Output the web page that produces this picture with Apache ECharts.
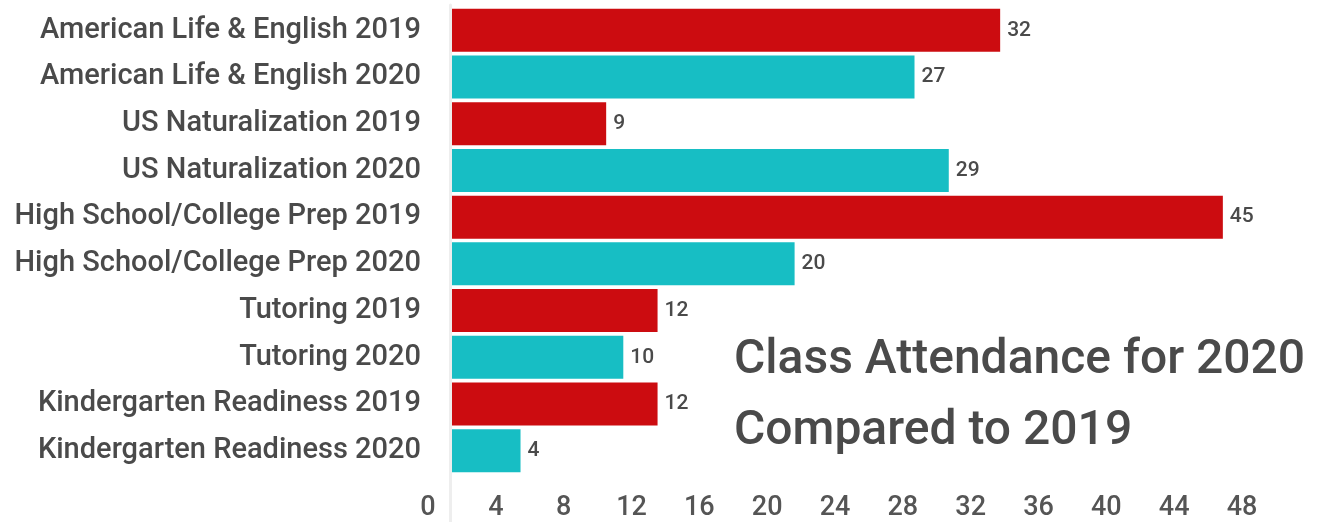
<!DOCTYPE html>
<html><head><meta charset="utf-8">
<script src="https://cdn.jsdelivr.net/npm/echarts@6/dist/echarts.min.js"></script>
<style>html,body{margin:0;padding:0;background:#fff}#c{width:1319px;height:522px}</style>
</head><body><div id="c"></div>
<script>
const categories = [
  "American Life & English 2019","American Life & English 2020",
  "US Naturalization 2019","US Naturalization 2020",
  "High School/College Prep 2019","High School/College Prep 2020",
  "Tutoring 2019","Tutoring 2020",
  "Kindergarten Readiness 2019","Kindergarten Readiness 2020"
];
const values = [32, 27, 9, 29, 45, 20, 12, 10, 12, 4];
const years = ["2019","2020","2019","2020","2019","2020","2019","2020","2019","2020"];
const yearColors = {"2019": "#cc0c10", "2020": "#17bec4"};
const tickMin = 0, tickMax = 48, tickStep = 4;

const chart = echarts.init(document.getElementById('c'));
chart.setOption({
  animation: false,
  backgroundColor: '#fff',
  title: {
    text: 'Class Attendance for 2020\nCompared to 2019',
    left: 729, top: 320,
    textStyle: {fontFamily: 'Roboto', fontSize: 48, fontWeight: 500, color: '#4a4a4a', lineHeight: 71}
  },
  grid: [
    {left: 452, right: 10.5, top: 7, bottom: 48},
    {left: 428, right: 77, top: 5, bottom: 30},
    {left: 450, right: 0, top: 5, bottom: 0}
  ],
  xAxis: [
    {gridIndex: 0, type: 'value', min: 0, max: 50, show: false},
    {gridIndex: 1, type: 'value', min: tickMin, max: tickMax, interval: tickStep,
     axisLine: {show: false}, axisTick: {show: false}, splitLine: {show: false},
     axisLabel: {margin: 3, fontFamily: 'Roboto', fontSize: 27, fontWeight: 500, color: '#555'}},
    {gridIndex: 2, type: 'value', show: false}
  ],
  yAxis: [
    {gridIndex: 0, type: 'category', data: categories, inverse: true,
     axisLine: {show: false}, axisTick: {show: false},
     axisLabel: {margin: 31, fontFamily: 'Roboto', fontSize: 29, fontWeight: 500, color: '#4a4a4a'}},
    {gridIndex: 1, type: 'value', show: false},
    {gridIndex: 2, type: 'value', axisLabel: {show: false}, axisTick: {show: false}, splitLine: {show: false},
     axisLine: {show: true, lineStyle: {color: '#eeeeee', width: 3}}}
  ],
  series: [{
    type: 'bar', xAxisIndex: 0, yAxisIndex: 0,
    data: values.map((v, i) => ({value: v, itemStyle: {color: yearColors[years[i]]}})),
    barCategoryGap: '8%',
    label: {show: true, position: 'right', distance: 7, fontFamily: 'Roboto', fontSize: 21, fontWeight: 500, color: '#4a4a4a'}
  }]
});
</script></body></html>
